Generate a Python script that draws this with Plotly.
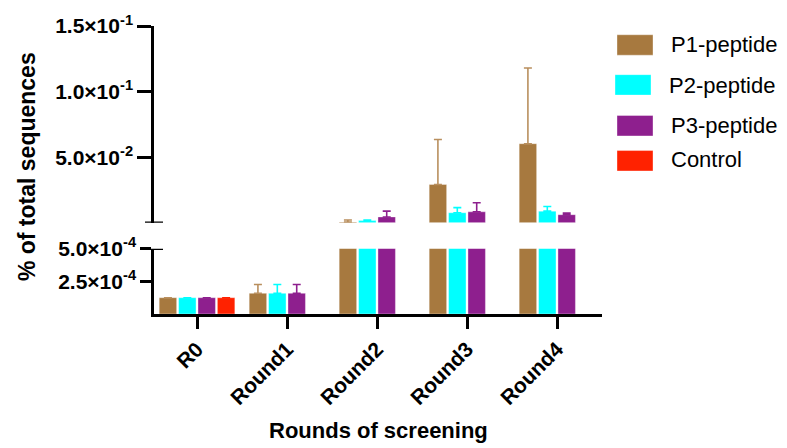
import plotly.graph_objects as go

categories = ["R0", "Round1", "Round2", "Round3", "Round4"]
series_names = ["P1-peptide", "P2-peptide", "P3-peptide", "Control"]
p1_values = [1.25e-4, 1.59e-4, 6.0e-4, 0.0292, 0.0603]
p1_err_top = [None, 2.26e-4, 0.0022, 0.0635, 0.118]
p2_values = [1.25e-4, 1.59e-4, 0.0017, 0.0077, 0.0089]
p2_err_top = [None, 2.26e-4, 0.0022, 0.0116, 0.0124]
p3_values = [1.25e-4, 1.59e-4, 0.0045, 0.0084, 0.0062]
p3_err_top = [None, 2.26e-4, 0.0089, 0.0153, 0.0074]
control_values = [1.25e-4, None, None, None, None]
control_err_top = [None, None, None, None, None]

lower_tickvals = [2.5e-4, 5.0e-4]
lower_ticktext = ["2.5×10<sup>-4</sup>", "5.0×10<sup>-4</sup>"]
upper_tickvals = [0.05, 0.10, 0.15]
upper_ticktext = ["5.0×10<sup>-2</sup>", "1.0×10<sup>-1</sup>", "1.5×10<sup>-1</sup>"]
lower_max = 5.0e-4
upper_max = 0.15

colors = ["#A7793F", "#00FFFF", "#8E1F8E", "#FF2200"]
err_colors = ["#B98F5E", "#00FFFF", "#8E1F8E", "#FF2200"]

FONT = "Liberation Sans, Arial, sans-serif"

# plot area geometry (pixels)
W, H = 787, 448
L, R, T, B = 154, 602, 18, 314
PW, PH = R - L, B - T


def px_x(x):
    return (x - L) / PW


def px_y(y):
    return (B - y) / PH


fig = go.Figure()

all_series = [
    (p1_values, p1_err_top),
    (p2_values, p2_err_top),
    (p3_values, p3_err_top),
    (control_values, control_err_top),
]

for i, (vals, tops) in enumerate(all_series):
    errs = [(t - v) if (t is not None and v is not None) else 0 for v, t in zip(vals, tops)]
    # lower segment
    fig.add_trace(go.Bar(
        x=categories, y=vals, name=series_names[i], xaxis="x", yaxis="y",
        offsetgroup=str(i), showlegend=False,
        marker=dict(color=colors[i], line=dict(color="rgba(255,255,255,0.45)", width=0.8)),
        error_y=dict(type="data", symmetric=False, array=errs, arrayminus=[0] * len(errs),
                     color=err_colors[i], thickness=1.6, width=4),
        hoverinfo="skip",
    ))
    # upper segment: only values that pass through the axis break
    up_vals = [v if (v is not None and v > lower_max) else None for v in vals]
    up_errs = [e if (v is not None and v > lower_max) else 0 for v, e in zip(vals, errs)]
    fig.add_trace(go.Bar(
        x=categories, y=up_vals, name=series_names[i], xaxis="x", yaxis="y2",
        offsetgroup=str(i), showlegend=False,
        marker=dict(color=colors[i], line=dict(color="rgba(255,255,255,0.45)", width=0.8)),
        error_y=dict(type="data", symmetric=False, array=up_errs, arrayminus=[0] * len(up_errs),
                     color=err_colors[i], thickness=1.6, width=4),
        hoverinfo="skip",
    ))

axis_common = dict(showline=True, linecolor="black", linewidth=2.5, showgrid=False,
                   zeroline=False, ticks="outside", tickcolor="black", tickwidth=2.5,
                   tickfont=dict(family=FONT, size=21, color="black", weight="bold"))

fig.update_layout(
    width=W, height=H,
    margin=dict(l=L, r=W - R, t=T, b=H - B, pad=0),
    paper_bgcolor="white", plot_bgcolor="white",
    barmode="group", bargap=0.138, bargroupgap=0.1,
    showlegend=False,
    xaxis=dict(
        range=[-0.478, 4.5], anchor="y", showline=True, linecolor="black", linewidth=2.5,
        showgrid=False, zeroline=False, ticks="outside", tickcolor="black", tickwidth=2.5,
        ticklen=12, tickangle=-45,
        tickfont=dict(family=FONT, size=21, color="black", weight="bold"),
    ),
    yaxis=dict(domain=[0, (B - 247) / PH], range=[0, lower_max], anchor="x",
               tickvals=lower_tickvals, ticktext=lower_ticktext, ticklen=11, **axis_common),
    yaxis2=dict(domain=[(B - 220.3) / PH, 1], range=[0, upper_max], anchor="x",
                tickvals=upper_tickvals, ticktext=upper_ticktext, ticklen=14, **axis_common),
)

# axis break markers
for yref, yv in (("y", lower_max), ("y2", 0)):
    fig.add_shape(type="line", xref="paper", xsizemode="pixel", xanchor=0, x0=-9, x1=9,
                  yref=yref, y0=yv, y1=yv, line=dict(color="black", width=2.5))

# titles
fig.add_annotation(text="% of total sequences", xref="paper", yref="paper",
                   x=px_x(27), y=px_y(163), textangle=-90, showarrow=False,
                   xanchor="center", yanchor="middle",
                   font=dict(family=FONT, size=23, color="black", weight="bold"))
fig.add_annotation(text="Rounds of screening", xref="paper", yref="paper",
                   x=px_x(378), y=px_y(434), showarrow=False,
                   xanchor="center", yanchor="middle",
                   font=dict(family=FONT, size=22, color="black", weight="bold"))

# legend (large swatches like the original)
legend_rows = [(617, 27, 669, 37), (615, 68, 667, 79), (617, 110, 669, 120), (617, 146, 669, 155)]
for i, (sx, sy, tx, ty) in enumerate(legend_rows):
    fig.add_shape(type="rect", xref="paper", yref="paper",
                  x0=px_x(sx), x1=px_x(sx + 36), y0=px_y(sy), y1=px_y(sy + 21),
                  fillcolor=colors[i], line=dict(color="rgba(255,255,255,0.45)", width=0.8))
    fig.add_annotation(text=series_names[i], xref="paper", yref="paper",
                       x=px_x(tx), y=px_y(ty), showarrow=False,
                       xanchor="left", yanchor="middle",
                       font=dict(family=FONT, size=22, color="black"))

fig.write_html("out.html", config={"displayModeBar": False},
               post_script="document.body.style.margin='0';document.body.style.padding='0';")
